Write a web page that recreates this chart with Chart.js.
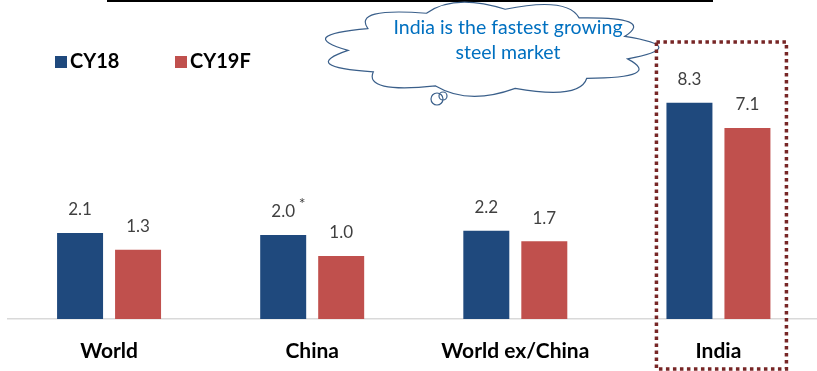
<!DOCTYPE html>
<html>
<head>
<meta charset="utf-8">
<title>Steel demand growth</title>
<script src="https://cdn.jsdelivr.net/npm/chart.js@4.4.1/dist/chart.umd.min.js"></script>
<style>
    html, body { margin: 0; padding: 0; background: #ffffff; overflow: hidden; }
    #wrap { position: relative; width: 820px; height: 371px; }
</style>
</head>
<body>
<div id="wrap"><canvas id="steelChart"></canvas></div>
<script>
const regions = ["World", "China", "World ex/China", "India"];
const cy18 = [2.1, 2.0, 2.2, 8.3];
const cy19f = [1.3, 1.0, 1.7, 7.1];
const cy18Notes = ["", "*", "", ""];
const calloutLines = ["India is the fastest growing", "steel market"];
const highlightIndex = 3;

const BLUE = "#1F497D";
const RED = "#C0504D";
const FONT = "Lato, 'Open Sans', sans-serif";

// Cloud shaped callout, bumps laid around an ellipse
function drawCloud(ctx, cx, cy, rx, ry) {
    const bumps = 11;
    const pts = [];
    for (let i = 0; i < bumps; i++) {
        const a = (i / bumps) * Math.PI * 2 + 0.25;
        pts.push([cx + rx * Math.cos(a), cy + ry * Math.sin(a)]);
    }
    ctx.beginPath();
    ctx.moveTo(pts[0][0], pts[0][1]);
    for (let i = 0; i < bumps; i++) {
        const p = pts[i];
        const q = pts[(i + 1) % bumps];
        const mx = (p[0] + q[0]) / 2;
        const my = (p[1] + q[1]) / 2;
        const dx = mx - cx;
        const dy = my - cy;
        const len = Math.sqrt((dx / rx) * (dx / rx) + (dy / ry) * (dy / ry));
        const k = 1.42 / len;
        ctx.quadraticCurveTo(cx + dx * k, cy + dy * k, q[0], q[1]);
    }
    ctx.closePath();
    ctx.fillStyle = "#ffffff";
    ctx.fill();
    ctx.strokeStyle = "#3A5F8A";
    ctx.lineWidth = 1.2;
    ctx.stroke();

    // small thought bubbles under the cloud
    [[437, 99, 6], [443, 96, 4]].forEach(c => {
        ctx.beginPath();
        ctx.arc(c[0], c[1], c[2], 0, Math.PI * 2);
        ctx.stroke();
    });
}

const overlayPlugin = {
    id: "overlay",
    afterDatasetsDraw(chart) {
        const ctx = chart.ctx;
        const xScale = chart.scales.x;
        ctx.save();

        // value labels above bars
        ctx.font = "17px " + FONT;
        ctx.fillStyle = "#404040";
        ctx.textAlign = "center";
        ctx.textBaseline = "middle";
        chart.data.datasets.forEach((ds, di) => {
            chart.getDatasetMeta(di).data.forEach((bar, i) => {
                ctx.fillText(ds.data[i].toFixed(1), bar.x, bar.y - 23);
                if (di === 0 && cy18Notes[i]) {
                    ctx.font = "16px " + FONT;
                    ctx.fillText(cy18Notes[i], bar.x + 19, bar.y - 31);
                    ctx.font = "17px " + FONT;
                }
            });
        });

        // title underline remnant at the very top
        ctx.strokeStyle = "#000000";
        ctx.lineWidth = 2;
        ctx.beginPath();
        ctx.moveTo(107, 1);
        ctx.lineTo(713, 1);
        ctx.stroke();

        // legend
        ctx.font = "bold 20px " + FONT;
        ctx.textAlign = "left";
        let lx = 55;
        chart.data.datasets.forEach(ds => {
            ctx.fillStyle = ds.backgroundColor;
            ctx.fillRect(lx, 56, 12, 12);
            ctx.fillStyle = "#000000";
            ctx.fillText(ds.label, lx + 15, 62);
            lx += 120;
        });

        // callout
        drawCloud(ctx, 490, 49, 142, 40);
        ctx.fillStyle = "#0070C0";
        ctx.font = "19.5px " + FONT;
        ctx.textAlign = "center";
        ctx.fillText(calloutLines[0], 508, 28);
        ctx.fillText(calloutLines[1], 508, 53);

        // dotted frame round the highlighted category
        const hx = xScale.getPixelForValue(highlightIndex);
        ctx.strokeStyle = "#772626";
        ctx.lineWidth = 3.5;
        ctx.setLineDash([3.5, 3.5]);
        ctx.strokeRect(hx - 62, 42, 130, 327);
        ctx.restore();
    }
};

new Chart(document.getElementById("steelChart"), {
    type: "bar",
    data: {
        labels: regions,
        datasets: [
            { label: "CY18", data: cy18, backgroundColor: BLUE, base: -2 },
            { label: "CY19F", data: cy19f, backgroundColor: RED, base: -2 }
        ]
    },
    options: {
        responsive: true,
        maintainAspectRatio: false,
        animation: false,
        categoryPercentage: 0.571,
        barPercentage: 0.793,
        layout: { padding: { left: 7.5, right: 0, top: 25, bottom: 9 } },
        plugins: {
            legend: { display: false },
            tooltip: { enabled: false }
        },
        scales: {
            x: {
                grid: { display: false, drawTicks: false },
                border: { display: true, color: "#D9D9D9", width: 1.5 },
                ticks: {
                    padding: 20,
                    color: "#000000",
                    font: { family: FONT, size: 21, weight: "bold" }
                },
                afterFit(scale) {
                    scale.height = 43;
                }
            },
            y: {
                display: false,
                min: -2,
                max: 12
            }
        }
    },
    plugins: [overlayPlugin]
});
</script>
</body>
</html>
